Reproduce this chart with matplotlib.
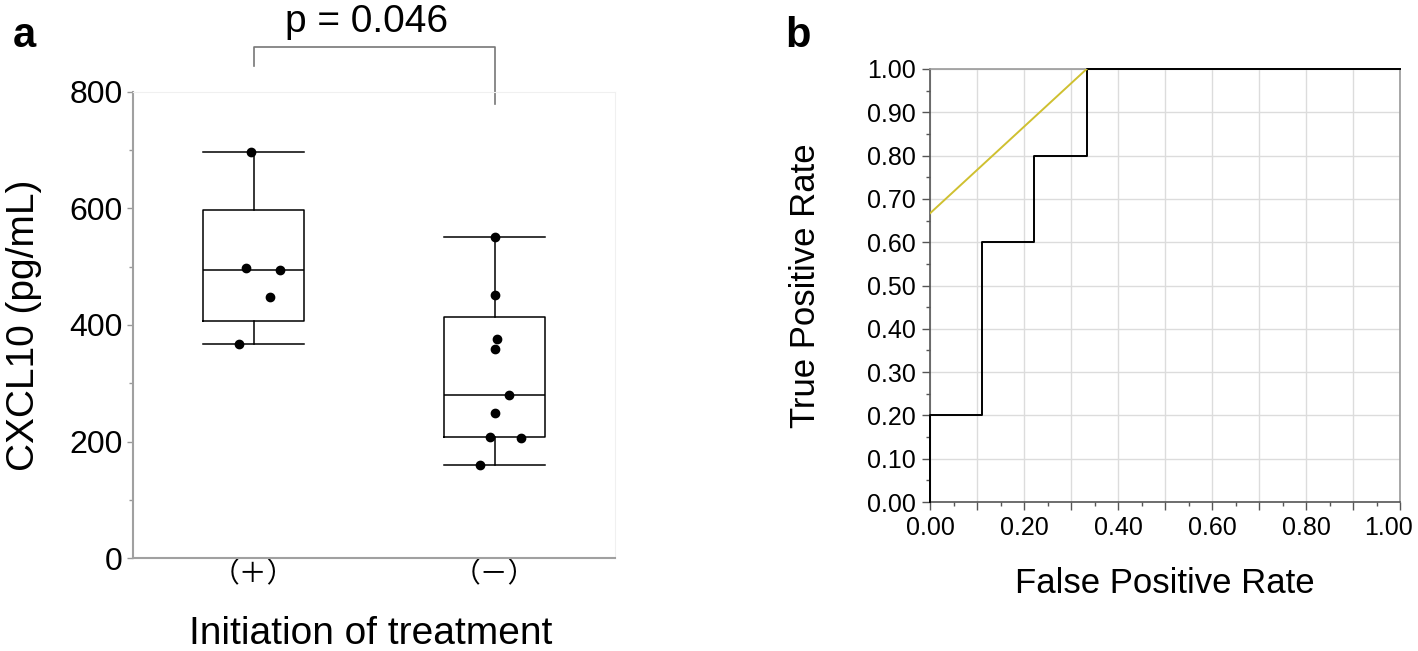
import matplotlib
matplotlib.use('Agg')
import matplotlib.pyplot as plt
import numpy as np
from matplotlib.ticker import MultipleLocator
from matplotlib.transforms import ScaledTranslation

plt.rcParams['font.family'] = ['Liberation Sans', 'DejaVu Sans']

# panel a data
groups = ['（＋）', '（－）']
cxcl10_pos = [697, 497, 495, 448, 367]
cxcl10_neg = [551, 451, 376, 359, 280, 249, 208, 206, 160]
jitter_pos = [-0.01, -0.03, 0.11, 0.07, -0.06]
jitter_neg = [0.0, 0.0, 0.01, 0.0, 0.06, 0.0, -0.02, 0.11, -0.06]
p_text = 'p = 0.046'

# panel b data (ROC)
fpr = [0, 0, 1/9, 1/9, 2/9, 2/9, 1/3, 1/3, 1]
tpr = [0, 0.2, 0.2, 0.6, 0.6, 0.8, 0.8, 1.0, 1.0]
cut_x = [0, 1/3]
cut_y = [2/3, 1.0]


def box_stats(vals, label):
    v = np.array(vals)
    q1, med, q3 = np.percentile(v, [25, 50, 75], method='weibull')
    return dict(med=med, q1=q1, q3=q3, whislo=v.min(), whishi=v.max(),
                fliers=[], label=label)


fig = plt.figure(figsize=(14.18, 6.51), dpi=100)

# ---- panel a ----
ax = fig.add_axes([133/1418, 1-558/651, 482/1418, 466/651])
stats = [box_stats(cxcl10_pos, groups[0]), box_stats(cxcl10_neg, groups[1])]
lp = dict(color='black', lw=1.1)
ax.bxp(stats, positions=[0, 1], widths=0.42, capwidths=0.42, showfliers=False,
       boxprops=lp, whiskerprops=lp, capprops=lp, medianprops=lp)
ax.plot(np.array(jitter_pos) + 0, cxcl10_pos, 'o', color='black', ms=6, zorder=3)
ax.plot(np.array(jitter_neg) + 1, cxcl10_neg, 'o', color='black', ms=6, zorder=3)

ax.set_xlim(-0.5, 1.5)
ax.set_ylim(0, 800)
ax.yaxis.set_major_locator(MultipleLocator(200))
ax.yaxis.set_minor_locator(MultipleLocator(100))
ax.tick_params(axis='y', which='major', length=4.5, width=1, color='#999999',
               labelsize=23, pad=3)
ax.tick_params(axis='y', which='minor', length=3, width=1, color='#999999')
ax.set_xticks([0, 1])
ax.set_xticklabels(groups, fontfamily=['Noto Sans CJK JP'], fontsize=20)
ax.tick_params(axis='x', length=0, pad=1)
for s in ['left', 'bottom']:
    ax.spines[s].set_color('#a0a0a0')
    ax.spines[s].set_linewidth(1.5)
for s in ['top', 'right']:
    ax.spines[s].set_color('#f0f0f0')
ax.set_ylabel('CXCL10 (pg/mL)', fontsize=28)
ax.yaxis.set_label_coords(-0.189, 0.5)
ax.set_xlabel('Initiation of treatment', fontsize=28)
ax.xaxis.set_label_coords(0.494, -0.125)

# significance bracket
ax.plot([0, 0, 1, 1], [845, 877, 877, 779], color='#777777', lw=1.2, clip_on=False)
ax.text(0.47, 920, p_text, ha='center', va='center', fontsize=28)

# ---- panel b ----
bx = fig.add_axes([930/1418, 1-502/651, 470/1418, 433/651])
bx.set_xlim(0, 1)
bx.set_ylim(0, 1)
ticks = np.arange(0, 1.01, 0.1)
bx.set_xticks(ticks)
bx.set_xticklabels(['%.2f' % t if i % 2 == 0 else '' for i, t in enumerate(ticks)])
bx.set_yticks(ticks)
bx.set_yticklabels(['%.2f' % t for t in ticks])
bx.xaxis.set_minor_locator(MultipleLocator(0.05))
bx.yaxis.set_minor_locator(MultipleLocator(0.05))
bx.grid(True, which='major', color='#dcdcdc', lw=1)
bx.set_axisbelow(True)
bx.tick_params(which='major', length=6, width=1, color='#555555', labelsize=18, pad=4)
bx.tick_params(which='minor', length=3, width=1, color='#555555')
for s in ['left', 'bottom']:
    bx.spines[s].set_color('#555555')
    bx.spines[s].set_linewidth(1.2)
for s in ['top', 'right']:
    bx.spines[s].set_color('#999999')
    bx.spines[s].set_linewidth(1.2)

# last x label sits slightly inside so it fits the figure
last = bx.get_xticklabels()[-1]
last.set_transform(last.get_transform() + ScaledTranslation(-0.11, 0, fig.dpi_scale_trans))

bx.plot(fpr, tpr, color='black', lw=1.4, clip_on=False, zorder=3)
bx.plot(cut_x, cut_y, color='#cfc030', lw=1.4, zorder=3)

bx.set_ylabel('True Positive Rate', fontsize=25)
bx.yaxis.set_label_coords(-0.23, 0.5)
bx.set_xlabel('False Positive Rate', fontsize=25)
bx.xaxis.set_label_coords(0.5, -0.15)

fig.text(13/1418, 1-47/651, 'a', fontsize=30, fontweight='bold', va='baseline')
fig.text(785/1418, 1-47/651, 'b', fontsize=30, fontweight='bold', va='baseline')

fig.savefig('out.png', dpi=100)
